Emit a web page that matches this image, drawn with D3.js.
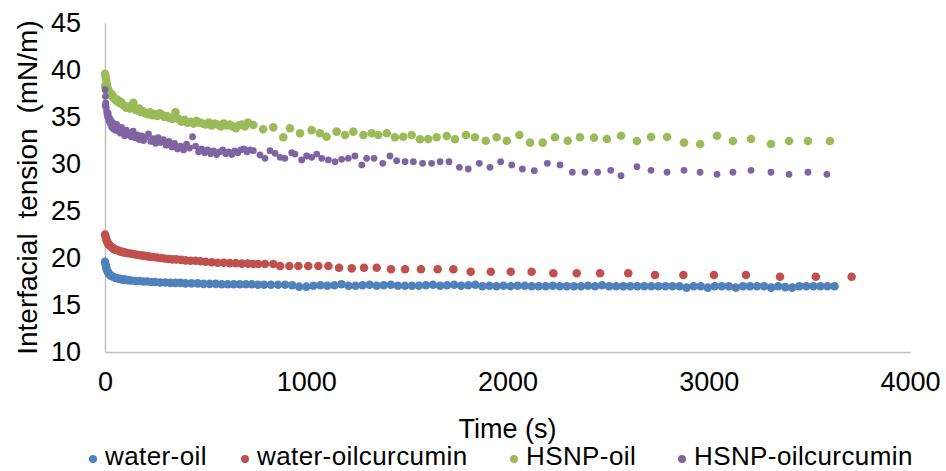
<!DOCTYPE html>
<html>
<head>
<meta charset="utf-8">
<script src="https://d3js.org/d3.v7.min.js"></script>
<style>
  body { margin: 0; background: #fff; }
  text { font-family: "Liberation Sans", Arial, sans-serif; fill: #000; }
</style>
</head>
<body>
<div id="chart"></div>
<script>
// [time (s), interfacial tension (mN/m)]
const waterOil = [
  [0,19.6],[3,19.3],[6,19.0],[10,18.7],[15,18.5],[20,18.3],[25,18.2],[30,18.1],[40,18.0],[50,17.9],
  [60,17.85],[70,17.8],[80,17.75],[90,17.7],[100,17.7],[115,17.65],[130,17.6],[150,17.55],[170,17.55],[190,17.5],
  [210,17.5],[230,17.45],[250,17.45],[275,17.4],[300,17.4],[325,17.35],[350,17.35],[375,17.35],[400,17.3],[430,17.3],
  [460,17.3],[490,17.25],[520,17.25],[550,17.25],[580,17.2],[610,17.2],[640,17.2],[670,17.2],[700,17.2],[730,17.2],
  [760,17.15],[790,17.15],[825,17.15],[860,17.15],[895,17.15],[930,17.1],[965,16.95],[1000,16.95],[1035,17.05],[1070,17.1],
  [1105,17.05],[1140,17.1],[1175,17.2],[1210,17.05],[1245,17.05],[1280,17.1],[1315,17.15],[1350,17.05],[1385,17.1],[1420,17.15],
  [1455,17.05],[1490,17.05],[1525,17.05],[1560,17.05],[1595,17.1],[1630,17.15],[1665,17.05],[1700,17.1],[1735,17.15],[1770,17.05],
  [1805,17.1],[1840,17.15],[1875,17.0],[1910,17.05],[1945,17.0],[1980,17.05],[2015,17.0],[2050,17.05],[2085,17.05],[2120,17.0],
  [2155,17.0],[2190,17.0],[2225,17.05],[2260,17.0],[2295,17.0],[2330,17.0],[2365,17.0],[2400,17.05],[2435,17.0],[2470,17.1],
  [2505,17.0],[2540,17.0],[2575,17.0],[2610,17.0],[2645,17.0],[2680,17.0],[2715,17.0],[2750,17.0],[2785,17.0],[2820,17.0],
  [2855,17.0],[2890,16.85],[2925,17.0],[2960,17.0],[2995,16.85],[3030,17.0],[3065,17.0],[3100,17.0],[3135,16.85],[3170,17.0],
  [3205,17.0],[3240,17.0],[3275,17.0],[3310,16.85],[3345,17.0],[3380,16.9],[3415,16.85],[3450,17.0],[3485,17.0],[3520,17.0],
  [3555,17.0],[3590,17.0],[3625,17.0]
];
const waterOilCurcumin = [
  [0,22.5],[4,22.2],[8,21.9],[12,21.7],[16,21.5],[20,21.4],[25,21.3],[30,21.2],[36,21.1],[42,21.0],
  [50,20.9],[58,20.85],[66,20.8],[75,20.7],[85,20.65],[95,20.6],[105,20.55],[118,20.5],[131,20.45],[145,20.4],
  [160,20.35],[175,20.3],[190,20.25],[206,20.2],[222,20.15],[240,20.1],[258,20.05],[276,20.0],[295,19.95],[315,19.9],
  [335,19.85],[355,19.85],[378,19.8],[400,19.75],[425,19.7],[450,19.7],[475,19.65],[500,19.6],[530,19.55],[560,19.5],
  [590,19.5],[620,19.45],[650,19.45],[680,19.4],[710,19.4],[737,19.36],[762,19.36],[795,19.36],[836,19.36],[870,19.15],
  [916,19.15],[961,19.15],[1010,19.15],[1060,19.15],[1110,19.15],[1163,18.97],[1226,18.9],[1287,18.97],[1350,18.97],[1421,18.8],
  [1491,18.8],[1570,18.8],[1653,18.8],[1731,18.8],[1817,18.54],[1917,18.54],[2016,18.54],[2120,18.54],[2228,18.37],[2344,18.37],
  [2460,18.37],[2600,18.37],[2733,18.19],[2874,18.19],[3026,18.19],[3185,18.19],[3354,18.01],[3532,18.01],[3710,18.01]
];
const hsnpOil = [
  [0,39.6],[1,38.3],[3,39.3],[6,38.9],[9,38.5],[12,38.2],[16,37.9],[20,37.7],[25,37.5],[30,37.3],
  [35,37.4],[40,37.1],[46,37.0],[52,36.9],[58,36.7],[65,36.8],[72,36.5],[80,36.6],[88,36.3],[96,36.2],
  [105,36.0],[114,36.1],[123,35.9],[132,36.0],[141,36.5],[150,35.8],[160,35.7],[170,35.9],[180,35.5],[190,35.6],
  [200,35.4],[212,35.3],[224,35.5],[236,35.2],[248,35.3],[260,35.1],[272,35.4],[284,35.2],[296,35.0],[308,35.1],
  [320,34.9],[335,34.8],[350,35.5],[365,34.8],[380,34.5],[395,34.7],[410,34.4],[425,34.5],[440,34.3],[455,34.6],
  [470,34.4],[485,34.3],[500,34.2],[515,34.4],[530,34.1],[545,34.3],[560,34.2],[575,34.0],[590,34.3],[605,34.1],
  [620,34.2],[635,34.0],[650,33.8],[665,34.1],[680,34.2],[695,34.0],[710,34.4],[737,34.15],[786,33.69],[836,33.9],
  [886,32.84],[919,33.8],[969,33.27],[1027,33.6],[1068,33.27],[1101,32.9],[1151,33.44],[1193,33.08],[1234,33.44],[1284,33.08],
  [1325,33.27],[1358,33.08],[1400,33.27],[1441,32.84],[1482,32.9],[1524,33.08],[1565,32.63],[1606,32.66],[1648,32.84],[1698,32.98],
  [1739,32.63],[1794,33.08],[1838,32.84],[1892,32.48],[1946,32.84],[1996,32.48],[2059,33.08],[2112,32.27],[2175,32.27],[2236,32.84],
  [2299,32.48],[2360,32.84],[2430,32.8],[2494,32.66],[2564,33.0],[2643,32.45],[2713,32.87],[2793,32.87],[2877,32.27],[2957,32.13],
  [3041,33.0],[3120,32.45],[3210,32.66],[3309,32.13],[3399,32.45],[3493,32.45],[3602,32.45]
];
const hsnpOilCurcumin = [
  [0,37.9],[1,36.2],[2,37.2],[4,36.5],[6,36.0],[8,35.6],[10,35.3],[13,35.0],[16,35.4],[19,34.6],
  [22,34.9],[26,34.3],[30,34.6],[34,33.9],[38,34.4],[43,33.7],[48,34.1],[53,33.6],[58,34.2],[64,33.5],
  [70,33.8],[76,33.3],[82,33.9],[90,33.4],[98,33.0],[106,33.6],[114,33.1],[122,33.3],[130,32.9],[140,33.5],
  [150,32.8],[160,33.1],[170,32.6],[180,33.0],[192,32.5],[204,32.9],[216,33.2],[228,32.4],[240,32.7],[252,32.2],
  [264,32.8],[276,32.3],[290,32.6],[304,32.0],[318,32.4],[332,31.8],[346,32.2],[360,31.6],[375,31.9],[390,31.5],
  [405,32.1],[420,31.7],[435,32.9],[450,31.9],[465,31.3],[480,31.6],[495,31.2],[510,31.5],[525,31.1],[540,31.4],
  [555,31.0],[570,31.3],[585,31.5],[600,31.1],[615,31.3],[630,31.0],[645,31.4],[660,31.2],[675,31.5],[690,31.6],
  [705,31.3],[720,31.5],[737,31.42],[770,30.96],[795,30.6],[820,31.42],[845,31.14],[870,30.71],[894,30.6],[928,31.2],
  [944,31.06],[977,30.43],[1002,30.85],[1027,30.71],[1052,31.06],[1077,30.6],[1110,30.43],[1143,30.24],[1176,30.5],[1209,30.6],
  [1242,30.85],[1276,29.9],[1300,30.6],[1337,30.6],[1380,30.07],[1416,30.85],[1449,30.35],[1491,30.24],[1532,30.24],[1578,30.07],
  [1623,30.07],[1665,30.24],[1709,30.24],[1761,29.65],[1805,29.47],[1860,30.07],[1913,29.65],[1966,30.24],[2021,29.9],[2074,29.47],
  [2133,29.29],[2198,30.07],[2261,29.9],[2322,29.12],[2385,29.12],[2448,29.12],[2513,29.33],[2564,28.76],[2643,29.71],[2713,29.33],
  [2793,29.12],[2877,29.33],[2957,29.12],[3041,28.9],[3120,29.12],[3210,29.33],[3309,29.12],[3399,28.9],[3493,29.12],[3587,28.9]
];

const seriesNames = ["water-oil", "water-oilcurcumin", "HSNP-oil", "HSNP-oilcurcumin"];
const seriesData = [waterOil, waterOilCurcumin, hsnpOil, hsnpOilCurcumin];
const seriesColors = ["#4F81BD", "#C0504D", "#9BBB59", "#8064A2"];
const seriesRadius = [4.3, 4.3, 4.3, 3.4];
const xTicks = [0, 1000, 2000, 3000, 4000];
const yTicks = [10, 15, 20, 25, 30, 35, 40, 45];

const width = 946, height = 471;
const margin = {top: 23, right: 36, bottom: 119, left: 105};
const fontSize = 27;

const svg = d3.select("#chart").append("svg")
  .attr("width", width)
  .attr("height", height);

const x = d3.scaleLinear().domain([0, 4000]).range([margin.left, width - margin.right]);
const y = d3.scaleLinear().domain([10, 45]).range([height - margin.bottom, margin.top]);

const yAxis = svg.append("g")
  .attr("transform", `translate(${margin.left},0)`)
  .call(d3.axisLeft(y).tickValues(yTicks).tickFormat(d3.format("d")).tickSize(0).tickPadding(24));
const xAxis = svg.append("g")
  .attr("transform", `translate(0,${height - margin.bottom})`)
  .call(d3.axisBottom(x).tickValues(xTicks).tickFormat(d3.format("d")).tickSize(0).tickPadding(20));

[xAxis, yAxis].forEach(g => {
  g.select(".domain").attr("stroke", "#bfbfbf").attr("stroke-width", 1.5);
  g.selectAll("text").attr("font-size", fontSize).attr("font-family", null);
});

seriesData.forEach((data, i) => {
  svg.append("g")
    .selectAll("circle")
    .data(data)
    .join("circle")
    .attr("cx", d => x(d[0]))
    .attr("cy", d => y(d[1]))
    .attr("r", seriesRadius[i])
    .attr("fill", seriesColors[i]);
});

svg.append("text")
  .attr("transform", `translate(37,${(y(10) + y(45)) / 2}) rotate(-90)`)
  .attr("text-anchor", "middle")
  .attr("font-size", 28)
  .attr("word-spacing", 7)
  .text("Interfacial tension (mN/m)");

svg.append("text")
  .attr("x", (x(0) + x(4000)) / 2)
  .attr("y", 438)
  .attr("text-anchor", "middle")
  .attr("font-size", fontSize)
  .text("Time (s)");

// legend entries placed like the original's spacing
const legendX = [93, 245, 514, 682];
const legend = svg.append("g");
seriesNames.forEach((name, i) => {
  legend.append("circle")
    .attr("cx", legendX[i])
    .attr("cy", 459)
    .attr("r", 4)
    .attr("fill", seriesColors[i]);
  legend.append("text")
    .attr("x", legendX[i] + 12)
    .attr("y", 465)
    .attr("font-size", 26)
    .attr("letter-spacing", 0.4)
    .text(name);
});
</script>
</body>
</html>
